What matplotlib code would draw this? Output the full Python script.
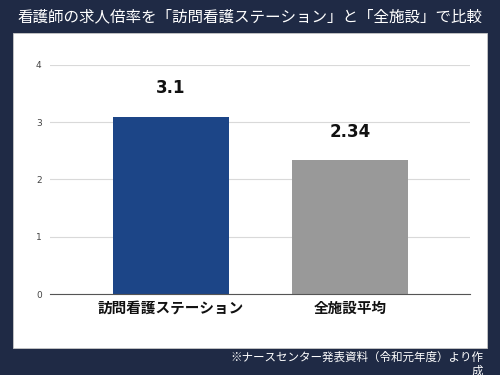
import matplotlib
matplotlib.use("Agg")
import matplotlib.pyplot as plt
from matplotlib.patches import Rectangle

plt.rcParams["font.family"] = ["Noto Sans CJK JP", "DejaVu Sans"]

# dati del grafico
categorie = ["訪問看護ステーション", "全施設平均"]
valori = [3.1, 2.34]
etichette_valori = ["3.1", "2.34"]
colori = ["#1c4587", "#999999"]
yticks = [0, 1, 2, 3, 4]

titolo = "看護師の求人倍率を「訪問看護ステーション」と「全施設」で比較"
nota = "※ナースセンター発表資料（令和元年度）より作\n成"

fig = plt.figure(figsize=(5, 3.75), dpi=100)
fig.patch.set_facecolor("#1f2a45")

# pannello bianco dietro il grafico
fig.patches.append(Rectangle((13 / 500, 1 - 348 / 375), 474 / 500, 315 / 375,
                             transform=fig.transFigure, facecolor="white",
                             edgecolor="#c8c8c8", linewidth=0.6, zorder=-5))

ax = fig.add_axes([0.10, 0.216, 0.84, 0.6107])
ax.set_zorder(2)
ax.set_facecolor("none")

x = list(range(len(categorie)))
ax.bar(x, valori, width=0.648, color=colori, zorder=3)

for xi, v, lab in zip(x, valori, etichette_valori):
    ax.annotate(lab, (xi, v), xytext=(0, 14), textcoords="offset points",
                ha="center", va="bottom", fontsize=12, fontweight="bold",
                color="#111111", family=["DejaVu Sans"])

ax.set_xlim(-0.676, 1.671)
ax.set_ylim(0, 4)
ax.set_yticks(yticks)
ax.set_yticklabels([str(t) for t in yticks], fontsize=6.5, color="#444444",
                   family=["DejaVu Sans"])
ax.set_xticks(x)
ax.set_xticklabels(categorie, fontsize=10.5, fontweight="bold", color="#111111")
ax.tick_params(axis="both", length=0, pad=6)
ax.tick_params(axis="x", pad=4)
ax.grid(axis="y", color="#d9d9d9", linewidth=0.8, zorder=0)
for s in ["top", "right", "left"]:
    ax.spines[s].set_visible(False)
ax.spines["bottom"].set_color("#555555")
ax.spines["bottom"].set_linewidth(0.8)
ax.spines["bottom"].set_zorder(4)

fig.text(0.5, 1 - 17 / 375, titolo, ha="center", va="center",
         fontsize=11.2, color="white")
fig.text(483 / 500, 1 - 351 / 375, nota, ha="right", va="top",
         fontsize=8.3, color="white", linespacing=1.1, multialignment="right")

fig.savefig("out.png", dpi=100, facecolor=fig.get_facecolor())
